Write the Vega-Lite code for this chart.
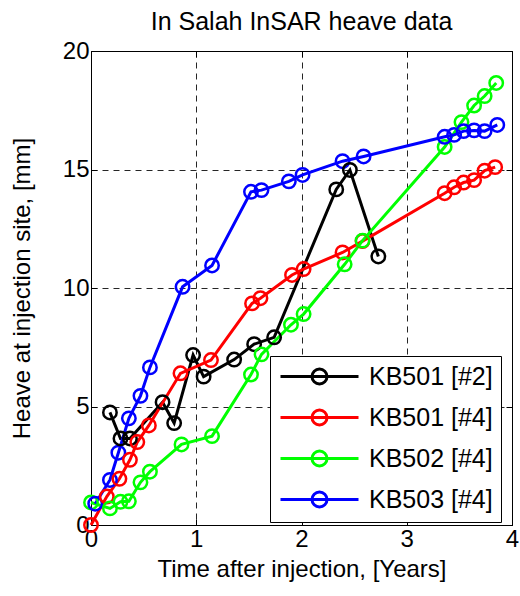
{
  "$schema": "https://vega.github.io/schema/vega-lite/v6.json",
  "width": 421,
  "height": 474,
  "autosize": {"type": "none"},
  "padding": {"left": 91, "top": 51, "right": 8, "bottom": 71},
  "background": "white",
  "title": {"text": "In Salah InSAR heave data", "fontSize": 25, "font": "Liberation Sans", "fontWeight": "normal", "color": "#000", "offset": 4},
  "config": {
    "font": "Liberation Sans",
    "view": {"stroke": "#000", "strokeWidth": 1},
    "axis": {
      "labelFont": "Liberation Sans", "labelFontSize": 24, "labelColor": "#000", "labelFlush": false,
      "titleFont": "Liberation Sans", "titleFontSize": 24, "titleFontWeight": "normal", "titleColor": "#000",
      "domainColor": "#000", "tickColor": "#000", "tickSize": -6, "tickWidth": 1,
      "gridColor": "#000", "gridDash": [6, 5], "gridWidth": 1, "gridOpacity": 0.85
    },
    "legend": {
      "orient": "none", "legendX": 179, "legendY": 305,
      "fillColor": "white", "strokeColor": "#000", "padding": 8,
      "labelFont": "Liberation Sans", "labelFontSize": 25, "labelColor": "#000", "labelOffset": 66,
      "symbolType": "M-1,0L6.8,0M2.15,0A0.75,0.75,0,1,1,3.65,0A0.75,0.75,0,1,1,2.15,0",
      "symbolSize": 400, "symbolStrokeWidth": 3, "symbolFillColor": "transparent", "rowPadding": 12
    }
  },
  "data": {"values": [
    {"s": "KB501 [#2]", "t": 0.18, "v": 4.75},
    {"s": "KB501 [#2]", "t": 0.28, "v": 3.65},
    {"s": "KB501 [#2]", "t": 0.37, "v": 3.65},
    {"s": "KB501 [#2]", "t": 0.68, "v": 5.18},
    {"s": "KB501 [#2]", "t": 0.79, "v": 4.3},
    {"s": "KB501 [#2]", "t": 0.97, "v": 7.17},
    {"s": "KB501 [#2]", "t": 1.07, "v": 6.26},
    {"s": "KB501 [#2]", "t": 1.36, "v": 6.98},
    {"s": "KB501 [#2]", "t": 1.55, "v": 7.63},
    {"s": "KB501 [#2]", "t": 1.74, "v": 7.92},
    {"s": "KB501 [#2]", "t": 2.33, "v": 14.16},
    {"s": "KB501 [#2]", "t": 2.46, "v": 14.98},
    {"s": "KB501 [#2]", "t": 2.73, "v": 11.33},
    {"s": "KB501 [#4]", "t": 0.0, "v": 0.0},
    {"s": "KB501 [#4]", "t": 0.15, "v": 1.2},
    {"s": "KB501 [#4]", "t": 0.27, "v": 1.95},
    {"s": "KB501 [#4]", "t": 0.37, "v": 2.75},
    {"s": "KB501 [#4]", "t": 0.44, "v": 3.5},
    {"s": "KB501 [#4]", "t": 0.55, "v": 4.2},
    {"s": "KB501 [#4]", "t": 0.85, "v": 6.4},
    {"s": "KB501 [#4]", "t": 1.14, "v": 6.96},
    {"s": "KB501 [#4]", "t": 1.53, "v": 9.35},
    {"s": "KB501 [#4]", "t": 1.61, "v": 9.57},
    {"s": "KB501 [#4]", "t": 1.91, "v": 10.55},
    {"s": "KB501 [#4]", "t": 2.02, "v": 10.8},
    {"s": "KB501 [#4]", "t": 2.39, "v": 11.5},
    {"s": "KB501 [#4]", "t": 2.58, "v": 11.98},
    {"s": "KB501 [#4]", "t": 3.36, "v": 14.0},
    {"s": "KB501 [#4]", "t": 3.45, "v": 14.25},
    {"s": "KB501 [#4]", "t": 3.54, "v": 14.45},
    {"s": "KB501 [#4]", "t": 3.64, "v": 14.55},
    {"s": "KB501 [#4]", "t": 3.74, "v": 14.95},
    {"s": "KB501 [#4]", "t": 3.84, "v": 15.1},
    {"s": "KB502 [#4]", "t": 0.0, "v": 0.95},
    {"s": "KB502 [#4]", "t": 0.18, "v": 0.7},
    {"s": "KB502 [#4]", "t": 0.28, "v": 0.98},
    {"s": "KB502 [#4]", "t": 0.36, "v": 1.0},
    {"s": "KB502 [#4]", "t": 0.47, "v": 1.8},
    {"s": "KB502 [#4]", "t": 0.56, "v": 2.25},
    {"s": "KB502 [#4]", "t": 0.86, "v": 3.4},
    {"s": "KB502 [#4]", "t": 1.15, "v": 3.75},
    {"s": "KB502 [#4]", "t": 1.52, "v": 6.35},
    {"s": "KB502 [#4]", "t": 1.62, "v": 7.2},
    {"s": "KB502 [#4]", "t": 1.9, "v": 8.45},
    {"s": "KB502 [#4]", "t": 2.02, "v": 8.9},
    {"s": "KB502 [#4]", "t": 2.41, "v": 11.0},
    {"s": "KB502 [#4]", "t": 2.58, "v": 12.0},
    {"s": "KB502 [#4]", "t": 3.36, "v": 15.95},
    {"s": "KB502 [#4]", "t": 3.52, "v": 17.0},
    {"s": "KB502 [#4]", "t": 3.64, "v": 17.7},
    {"s": "KB502 [#4]", "t": 3.74, "v": 18.1},
    {"s": "KB502 [#4]", "t": 3.85, "v": 18.65},
    {"s": "KB503 [#4]", "t": 0.04, "v": 0.9},
    {"s": "KB503 [#4]", "t": 0.18, "v": 1.9},
    {"s": "KB503 [#4]", "t": 0.26, "v": 3.05},
    {"s": "KB503 [#4]", "t": 0.36, "v": 4.5},
    {"s": "KB503 [#4]", "t": 0.47, "v": 5.45},
    {"s": "KB503 [#4]", "t": 0.56, "v": 6.65},
    {"s": "KB503 [#4]", "t": 0.87, "v": 10.05},
    {"s": "KB503 [#4]", "t": 1.15, "v": 10.95},
    {"s": "KB503 [#4]", "t": 1.52, "v": 14.06},
    {"s": "KB503 [#4]", "t": 1.62, "v": 14.13},
    {"s": "KB503 [#4]", "t": 1.88, "v": 14.5},
    {"s": "KB503 [#4]", "t": 2.01, "v": 14.77},
    {"s": "KB503 [#4]", "t": 2.39, "v": 15.35},
    {"s": "KB503 [#4]", "t": 2.59, "v": 15.55},
    {"s": "KB503 [#4]", "t": 3.36, "v": 16.38},
    {"s": "KB503 [#4]", "t": 3.45, "v": 16.46},
    {"s": "KB503 [#4]", "t": 3.54, "v": 16.62},
    {"s": "KB503 [#4]", "t": 3.64, "v": 16.65},
    {"s": "KB503 [#4]", "t": 3.74, "v": 16.62},
    {"s": "KB503 [#4]", "t": 3.86, "v": 16.88}
  ]},
  "layer": [
    {
      "mark": {"type": "line", "strokeWidth": 3, "point": {"filled": false, "size": 180, "strokeWidth": 2.5, "fill": "transparent"}},
      "encoding": {
        "x": {"field": "t", "type": "quantitative", "scale": {"domain": [0, 4], "nice": false},
              "axis": {"values": [0, 1, 2, 3, 4], "title": "Time after injection, [Years]", "labelPadding": 8, "titlePadding": 6}},
        "y": {"field": "v", "type": "quantitative", "scale": {"domain": [0, 20], "nice": false},
              "axis": {"values": [0, 5, 10, 15, 20], "title": "Heave at injection site, [mm]", "labelPadding": 8, "titlePadding": 28}},
        "color": {"field": "s", "type": "nominal",
                  "scale": {"domain": ["KB501 [#2]", "KB501 [#4]", "KB502 [#4]", "KB503 [#4]"], "range": ["#000000", "#ff0000", "#00ff00", "#0000ff"]},
                  "legend": {"title": null}},
        "order": {"field": "t", "type": "quantitative"}
      }
    },
    {
      "mark": {"type": "point", "opacity": 0},
      "encoding": {
        "x": {"field": "t", "type": "quantitative", "axis": {"orient": "top", "values": [0, 1, 2, 3, 4], "labels": false, "grid": false, "title": null, "domain": false}},
        "y": {"field": "v", "type": "quantitative", "axis": {"orient": "right", "values": [0, 5, 10, 15, 20], "labels": false, "grid": false, "title": null, "domain": false}}
      }
    }
  ],
  "resolve": {"axis": {"x": "independent", "y": "independent"}}
}
